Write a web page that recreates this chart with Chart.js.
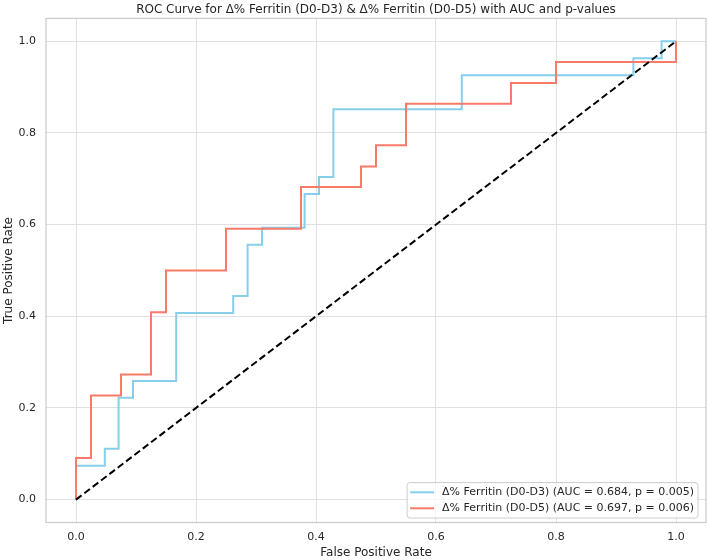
<!DOCTYPE html>
<html>
<head>
<meta charset="utf-8">
<script src="https://cdn.jsdelivr.net/npm/chart.js@4"></script>
<style>
  html, body { margin: 0; padding: 0; background: #ffffff; }
  #wrap { width: 708px; height: 560px; }
</style>
</head>
<body>
<div id="wrap"><canvas id="c" width="708" height="560"></canvas></div>
<script>
// ---- Data ----
const titleText = "ROC Curve for Δ% Ferritin (D0-D3) & Δ% Ferritin (D0-D5) with AUC and p-values";
const xLabel = "False Positive Rate";
const yLabel = "True Positive Rate";
const tickValues = [0.0, 0.2, 0.4, 0.6, 0.8, 1.0];

const d3Label = "Δ% Ferritin (D0-D3) (AUC = 0.684, p = 0.005)";
const d3Fpr = [0, 0, 0.048, 0.048, 0.071, 0.071, 0.095, 0.095, 0.167, 0.167, 0.262, 0.262, 0.286, 0.286, 0.310, 0.310, 0.381, 0.381, 0.405, 0.405, 0.429, 0.429, 0.643, 0.643, 0.929, 0.929, 0.976, 0.976, 1.0];
const d3Tpr = [0, 0.074, 0.074, 0.111, 0.111, 0.222, 0.222, 0.259, 0.259, 0.407, 0.407, 0.444, 0.444, 0.556, 0.556, 0.593, 0.593, 0.667, 0.667, 0.704, 0.704, 0.852, 0.852, 0.926, 0.926, 0.963, 0.963, 1.0, 1.0];

const d5Label = "Δ% Ferritin (D0-D5) (AUC = 0.697, p = 0.006)";
const d5Fpr = [0, 0, 0.025, 0.025, 0.075, 0.075, 0.125, 0.125, 0.15, 0.15, 0.25, 0.25, 0.375, 0.375, 0.475, 0.475, 0.5, 0.5, 0.55, 0.55, 0.725, 0.725, 0.8, 0.8, 1.0, 1.0];
const d5Tpr = [0, 0.091, 0.091, 0.227, 0.227, 0.273, 0.273, 0.409, 0.409, 0.5, 0.5, 0.591, 0.591, 0.682, 0.682, 0.727, 0.727, 0.773, 0.773, 0.864, 0.864, 0.909, 0.909, 0.955, 0.955, 1.0];

const chanceFpr = [0, 1];
const chanceTpr = [0, 1];

// ---- Styles ----
const FONT = "'DejaVu Sans', 'Liberation Sans', sans-serif";
const TEXT = '#262626';
const BLUE = '#87CEEB';
const RED = '#FA7A6A';
const GRID = '#e0e0e0';
const SPINE = '#cccccc';

const pts = (xs, ys) => xs.map((x, i) => ({ x: x, y: ys[i] }));

const frameTitleLegend = {
  id: 'frameTitleLegend',
  beforeDatasetsDraw(chart) {
    const { ctx, chartArea: a } = chart;
    ctx.save();
    ctx.strokeStyle = SPINE;
    ctx.lineWidth = 1.25;
    ctx.strokeRect(a.left, a.top, a.right - a.left, a.bottom - a.top);
    // title centred over the plotting area
    ctx.fillStyle = TEXT;
    ctx.font = "12px " + FONT;
    ctx.textAlign = 'center';
    ctx.textBaseline = 'middle';
    ctx.fillText(titleText, (a.left + a.right) / 2, a.top - 8.6);
    ctx.restore();
  },
  afterDatasetsDraw(chart) {
    const { ctx, chartArea: a } = chart;
    const items = chart.data.datasets.filter(d => d.showInLegend);
    ctx.save();
    ctx.font = "11px " + FONT;
    const textW = Math.max(...items.map(d => ctx.measureText(d.label).width));
    const rowH = 16;
    const padL = 3, lineLen = 24, gap = 8, padR = 4, padV = 9.7;
    const w = padL + lineLen + gap + textW + padR;
    const h = padV * 2 + rowH * (items.length - 1);
    const right = a.right - 8;
    const bottom = a.bottom - 4.5;
    const left = right - w, top = bottom - h;
    const r = 3;
    ctx.beginPath();
    ctx.moveTo(left + r, top);
    ctx.lineTo(right - r, top);
    ctx.quadraticCurveTo(right, top, right, top + r);
    ctx.lineTo(right, bottom - r);
    ctx.quadraticCurveTo(right, bottom, right - r, bottom);
    ctx.lineTo(left + r, bottom);
    ctx.quadraticCurveTo(left, bottom, left, bottom - r);
    ctx.lineTo(left, top + r);
    ctx.quadraticCurveTo(left, top, left + r, top);
    ctx.closePath();
    ctx.fillStyle = 'rgba(255,255,255,0.8)';
    ctx.fill();
    ctx.strokeStyle = SPINE;
    ctx.lineWidth = 1;
    ctx.stroke();
    items.forEach((d, i) => {
      const cy = top + padV + i * rowH;
      ctx.beginPath();
      ctx.strokeStyle = d.borderColor;
      ctx.lineWidth = 2;
      ctx.moveTo(left + padL, cy);
      ctx.lineTo(left + padL + lineLen, cy);
      ctx.stroke();
      ctx.fillStyle = TEXT;
      ctx.textAlign = 'left';
      ctx.textBaseline = 'middle';
      ctx.fillText(d.label, left + padL + lineLen + gap, cy);
    });
    ctx.restore();
  }
};

new Chart(document.getElementById('c'), {
  type: 'line',
  data: {
    datasets: [
      { label: d3Label, data: pts(d3Fpr, d3Tpr), borderColor: BLUE, borderWidth: 2, pointRadius: 0, tension: 0, fill: false, order: 2, showInLegend: true },
      { label: d5Label, data: pts(d5Fpr, d5Tpr), borderColor: RED, borderWidth: 2, pointRadius: 0, tension: 0, fill: false, order: 1, showInLegend: true },
      { label: 'chance', data: pts(chanceFpr, chanceTpr), borderColor: '#000000', borderWidth: 2, borderDash: [7, 3.5], pointRadius: 0, tension: 0, fill: false, order: 0, showInLegend: false }
    ]
  },
  options: {
    responsive: false,
    animation: false,
    events: [],
    layout: { padding: { left: 0, right: 2, top: 18.4, bottom: 0 } },
    plugins: {
      legend: { display: false },
      tooltip: { enabled: false },
      title: { display: false }
    },
    scales: {
      x: {
        type: 'linear',
        min: -0.05,
        max: 1.05,
        afterBuildTicks: s => { s.ticks = tickValues.map(v => ({ value: v })); },
        afterFit: s => { s.height = 37.5; },
        grid: { color: GRID, lineWidth: 1, drawTicks: false },
        border: { display: false },
        ticks: { color: TEXT, font: { family: FONT, size: 11 }, padding: 8, maxRotation: 0, callback: v => Number(v).toFixed(1) },
        title: { display: true, text: xLabel, color: TEXT, font: { family: FONT, size: 12, lineHeight: 1.2 }, padding: { top: 0, bottom: 0 } }
      },
      y: {
        type: 'linear',
        min: -0.05,
        max: 1.05,
        afterBuildTicks: s => { s.ticks = tickValues.map(v => ({ value: v })); },
        afterFit: s => { s.width = 46; },
        grid: { color: GRID, lineWidth: 1, drawTicks: false },
        border: { display: false },
        ticks: { color: TEXT, font: { family: FONT, size: 11 }, padding: 10, callback: v => Number(v).toFixed(1) },
        title: { display: true, text: yLabel, color: TEXT, font: { family: FONT, size: 12, lineHeight: 1.2 }, padding: { top: 1.3, bottom: 0 } }
      }
    }
  },
  plugins: [frameTitleLegend]
});
</script>
</body>
</html>
